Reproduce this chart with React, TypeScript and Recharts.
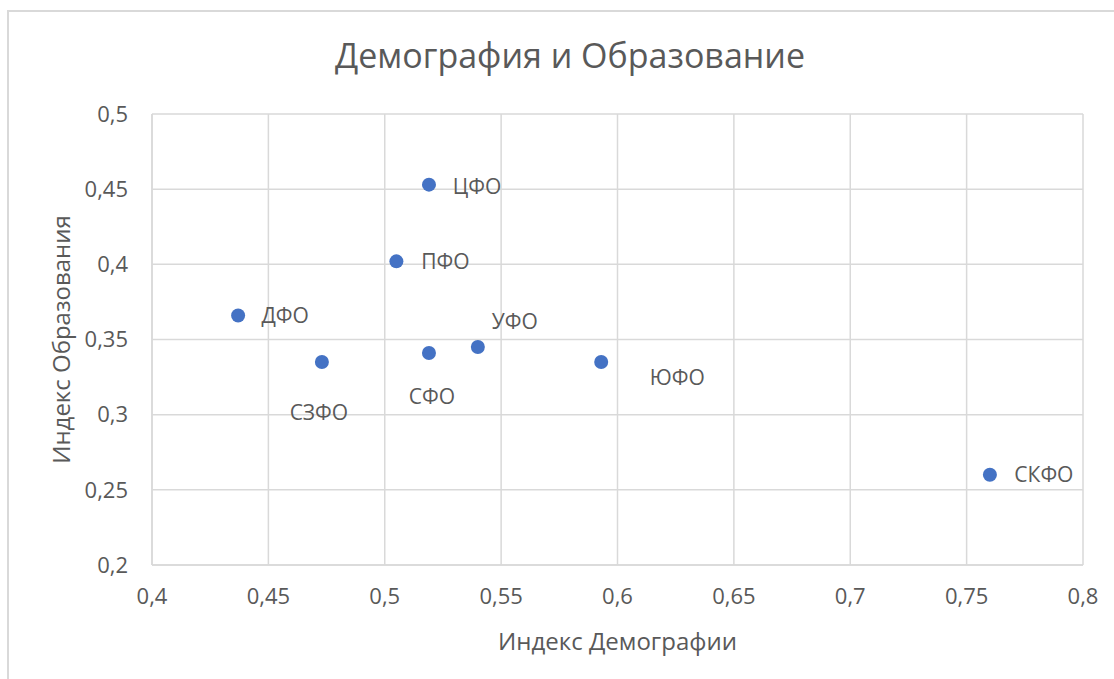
import React from 'react';
import { ScatterChart, Scatter, XAxis, YAxis, CartesianGrid, Label } from 'recharts';

const regions = ['ЦФО', 'ПФО', 'ДФО', 'СЗФО', 'СФО', 'УФО', 'ЮФО', 'СКФО'];
const demography = [0.519, 0.505, 0.437, 0.473, 0.519, 0.54, 0.593, 0.76];
const education = [0.453, 0.402, 0.366, 0.335, 0.341, 0.345, 0.335, 0.26];
const xTicks = [0.4, 0.45, 0.5, 0.55, 0.6, 0.65, 0.7, 0.75, 0.8];
const yTicks = [0.2, 0.25, 0.3, 0.35, 0.4, 0.45, 0.5];

const title = 'Демография и Образование';
const xTitle = 'Индекс Демографии';
const yTitle = 'Индекс Образования';

// label placement relative to the marker (style config)
const labelOffset: Record<string, [number, number]> = {
  'ЦФО': [48, 1],
  'ПФО': [49, 0],
  'ДФО': [47, 0],
  'СЗФО': [-3, 50],
  'СФО': [3, 43],
  'УФО': [37, -26],
  'ЮФО': [76, 15],
  'СКФО': [54, -1],
};

const data = regions.map((name, i) => ({ name, x: demography[i], y: education[i] }));

const FONT = '"Open Sans", sans-serif';
const TEXT = '#595959';
const fmt = (v: number) => String(v).replace('.', ',');

const Dot = (props: any) => {
  const { cx, cy, payload } = props;
  const off = labelOffset[payload.name] || [40, 0];
  return (
    <g>
      <circle cx={cx} cy={cy} r={7} fill="#4472C4" />
      <text
        x={cx + off[0]}
        y={cy + off[1]}
        textAnchor="middle"
        dominantBaseline="central"
        fill={TEXT}
        fontSize={21}
        fontFamily={FONT}
      >
        {payload.name}
      </text>
    </g>
  );
};

export default function App() {
  return (
    <div style={{ position: 'absolute', left: 0, top: 0, width: 1114, height: 679, background: '#fff', overflow: 'hidden' }}>
      <div
        style={{
          position: 'absolute',
          left: 7,
          top: 10,
          width: 1114,
          height: 679,
          borderTop: '2px solid #d9d9d9',
          borderLeft: '2px solid #d9d9d9',
        }}
      />
      <div
        style={{
          position: 'absolute',
          left: 270,
          top: 38,
          width: 600,
          textAlign: 'center',
          fontFamily: FONT,
          fontSize: 34,
          lineHeight: '34px',
          color: TEXT,
          whiteSpace: 'nowrap',
        }}
      >
        {title}
      </div>
      <div style={{ position: 'absolute', left: 0, top: 0 }}>
        <ScatterChart
          width={1114}
          height={679}
          margin={{ top: 114, right: 31, bottom: 0, left: 0 }}
          style={{ fontFamily: FONT }}
        >
          <CartesianGrid stroke="#d9d9d9" strokeWidth={1.5} />
          <XAxis
            type="number"
            dataKey="x"
            domain={[0.4, 0.8]}
            ticks={xTicks}
            interval={0}
            tickFormatter={fmt}
            height={114}
            tickSize={0}
            tickMargin={23}
            axisLine={{ stroke: '#d9d9d9', strokeWidth: 1.5 }}
            tickLine={false}
            tick={{ fill: TEXT, fontSize: 22, fontFamily: FONT }}
          >
            <Label
              value={xTitle}
              position="insideBottom"
              offset={29}
              style={{ fill: TEXT, fontSize: 24, fontFamily: FONT }}
            />
          </XAxis>
          <YAxis
            type="number"
            dataKey="y"
            domain={[0.2, 0.5]}
            ticks={yTicks}
            interval={0}
            tickFormatter={fmt}
            width={152}
            tickSize={0}
            tickMargin={24}
            axisLine={{ stroke: '#d9d9d9', strokeWidth: 1.5 }}
            tickLine={false}
            tick={{ fill: TEXT, fontSize: 22, fontFamily: FONT }}
          >
            <Label
              value={yTitle}
              angle={-90}
              position="insideLeft"
              offset={61}
              style={{ fill: TEXT, fontSize: 24, fontFamily: FONT, textAnchor: 'middle' }}
            />
          </YAxis>
          <Scatter data={data} shape={Dot} isAnimationActive={false} />
        </ScatterChart>
      </div>
    </div>
  );
}
